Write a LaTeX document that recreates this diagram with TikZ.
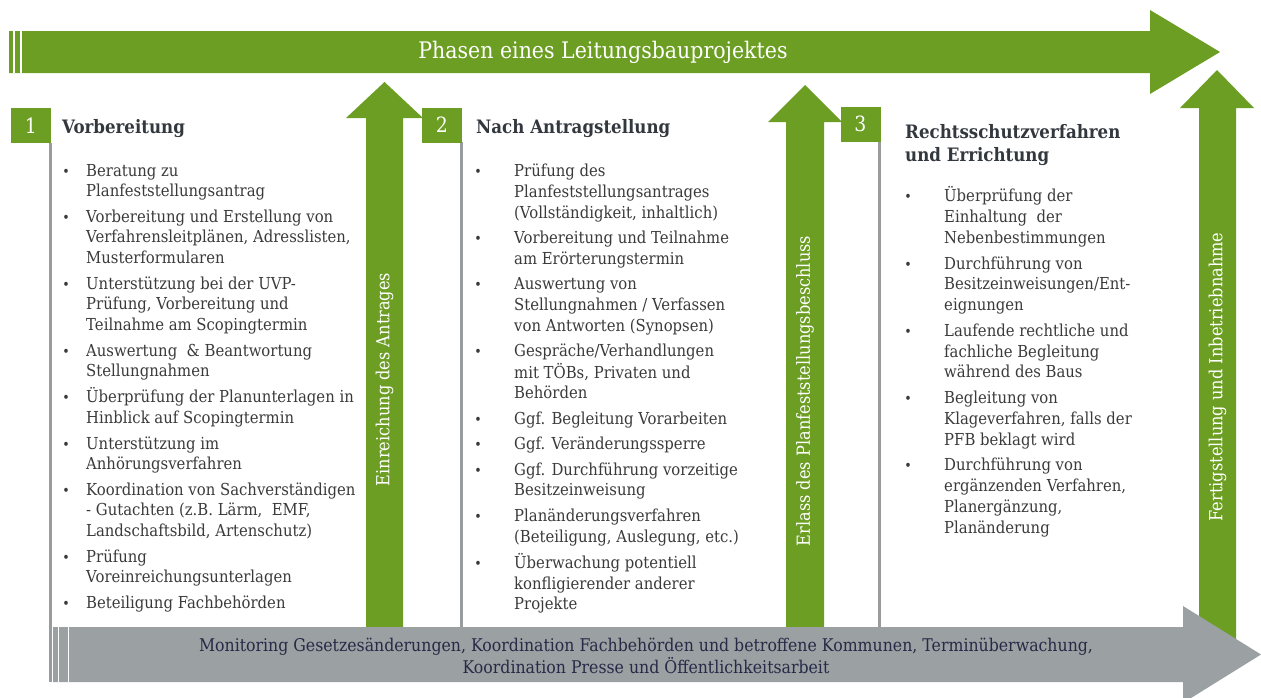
\documentclass[tikz,border=0pt]{standalone}
\usepackage{fontspec}
\setmainfont{DejaVu Serif}[FakeStretch=0.9]
\definecolor{grn}{RGB}{107,158,34}
\definecolor{gry}{RGB}{155,160,163}
\definecolor{lgry}{RGB}{152,156,159}
\definecolor{txtc}{RGB}{58,58,58}
\definecolor{ttlc}{RGB}{50,56,62}
\definecolor{navy}{RGB}{38,42,70}
\newcommand{\bulw}[1]{\makebox[#1]{\fontsize{14}{14}\selectfont\textbullet}}
\tikzset{
  numbox/.style={fill=grn, text=white, minimum width=40pt, minimum height=35pt, inner sep=0pt, font=\fontsize{21}{22}\selectfont},
  coltitle/.style={anchor=base west, inner sep=0pt, text=ttlc, font=\bfseries\fontsize{18.5}{23.4}\selectfont},
  coltext/.style={anchor=base west, inner sep=0pt, text=txtc, font=\fontsize{16.5}{20.7}\selectfont},
  vtext/.style={rotate=90, text=white, inner sep=0pt, font=\fontsize{18}{20}\selectfont},
  colline/.style={draw=lgry, line width=3pt},
}
\begin{document}
\begin{tikzpicture}[x=1pt,y=-1pt]
\useasboundingbox (0,0) rectangle (1261,697);
% top arrow
\fill[grn] (9,31) -- (1150,31) -- (1150,10) -- (1220,52) -- (1150,94) -- (1150,73) -- (9,73) -- cycle;
\fill[white] (13.3,31) rectangle (14.6,73);
\fill[white] (20.3,31) rectangle (21.6,73);
\node[text=white, inner sep=0pt, font=\fontsize{22.8}{26}\selectfont] (phasen) at (603,52) {Phasen eines Leitungsbauprojektes};
% column lines
\draw[colline] (50,143) -- (50,682);
\draw[colline] (461.5,142) -- (461.5,628);
\draw[colline] (879.5,141) -- (879.5,628);
% vertical arrows
\fill[grn] (366,628) -- (366,118) -- (346,118) -- (384.5,82) -- (423,118) -- (403,118) -- (403,628) -- cycle;
\fill[grn] (786,628) -- (786,122) -- (768,122) -- (805,85) -- (842,122) -- (824,122) -- (824,628) -- cycle;
\fill[grn] (1199,640) -- (1199,108) -- (1180,108) -- (1217,70) -- (1254,108) -- (1236,108) -- (1236,640) -- cycle;
\node[vtext] (einr) at (384.5,379.5) {Einreichung des Antrages};
\node[vtext] (erl) at (805,391) {Erlass des Planfeststellungsbeschluss};
\node[vtext] (fert) at (1217.5,377) {Fertigstellung und Inbetriebnahme};
% bottom arrow
\fill[gry] (53,627) -- (1183,627) -- (1183,606) -- (1261,654.5) -- (1183,703) -- (1183,682) -- (53,682) -- cycle;
\fill[white] (57.6,627) rectangle (58.9,682);
\fill[white] (67.6,627) rectangle (68.9,682);
\node[text=navy, inner sep=0pt, align=center, font=\fontsize{17.5}{22}\selectfont] (monitor) at (646,656)
  {Monitoring Gesetzesänderungen, Koordination Fachbehörden und betroffene Kommunen, Terminüberwachung,\\
   Koordination Presse und Öffentlichkeitsarbeit};
% number boxes
\node[numbox] (n1) at (31,125.5) {1};
\node[numbox] (n2) at (442,125) {2};
\node[numbox] (n3) at (860.5,124) {3};
% titles
\node[coltitle] (t1) at (62,133.3) {Vorbereitung};
\node[coltitle] (t2) at (476,133.3) {Nach Antragstellung};
\node[coltitle] (t3) at (905,138.3) {\begin{tabular}[t]{@{}l@{}}Rechtsschutzverfahren\\und Errichtung\end{tabular}};
% column 1
\node[coltext] (c1) at (46,176) {\begin{tabular}[t]{@{}l@{}l@{}}
\bulw{40pt} & Beratung zu\\
 & Planfeststellungsantrag\\[4.8pt]
\bulw{40pt} & Vorbereitung und Erstellung von\\
 & Verfahrensleitplänen, Adresslisten,\\
 & Musterformularen\\[4.8pt]
\bulw{40pt} & Unterstützung bei der UVP-\\
 & Prüfung, Vorbereitung und\\
 & Teilnahme am Scopingtermin\\[4.8pt]
\bulw{40pt} & Auswertung\ \ \& Beantwortung\\
 & Stellungnahmen\\[4.8pt]
\bulw{40pt} & Überprüfung der Planunterlagen in\\
 & Hinblick auf Scopingtermin\\[4.8pt]
\bulw{40pt} & Unterstützung im\\
 & Anhörungsverfahren\\[4.8pt]
\bulw{40pt} & Koordination von Sachverständigen\\
 & - Gutachten (z.B. Lärm,\ \ EMF,\\
 & Landschaftsbild, Artenschutz)\\[4.8pt]
\bulw{40pt} & Prüfung\\
 & Voreinreichungsunterlagen\\[4.8pt]
\bulw{40pt} & Beteiligung Fachbehörden
\end{tabular}};
% column 2
\node[coltext] (c2) at (442,176.7) {\begin{tabular}[t]{@{}l@{}l@{}}
\bulw{72pt} & Prüfung des\\
 & Planfeststellungsantrages\\
 & (Vollständigkeit, inhaltlich)\\[4.8pt]
\bulw{72pt} & Vorbereitung und Teilnahme\\
 & am Erörterungstermin\\[4.8pt]
\bulw{72pt} & Auswertung von\\
 & Stellungnahmen / Verfassen\\
 & von Antworten (Synopsen)\\[4.8pt]
\bulw{72pt} & Gespräche/Verhandlungen\\
 & mit TÖBs, Privaten und\\
 & Behörden\\[4.8pt]
\bulw{72pt} & Ggf. Begleitung Vorarbeiten\\[4.8pt]
\bulw{72pt} & Ggf. Veränderungssperre\\[4.8pt]
\bulw{72pt} & Ggf. Durchführung vorzeitige\\
 & Besitzeinweisung\\[4.8pt]
\bulw{72pt} & Planänderungsverfahren\\
 & (Beteiligung, Auslegung, etc.)\\[4.8pt]
\bulw{72pt} & Überwachung potentiell\\
 & konfligierender anderer\\
 & Projekte
\end{tabular}};
% column 3
\node[coltext] (c3) at (872,201.7) {\begin{tabular}[t]{@{}l@{}l@{}}
\bulw{72pt} & Überprüfung der\\
 & Einhaltung\ \ der\\
 & Nebenbestimmungen\\[5.2pt]
\bulw{72pt} & Durchführung von\\
 & Besitzeinweisungen/Ent-\\
 & eignungen\\[5.2pt]
\bulw{72pt} & Laufende rechtliche und\\
 & fachliche Begleitung\\
 & während des Baus\\[5.2pt]
\bulw{72pt} & Begleitung von\\
 & Klageverfahren, falls der\\
 & PFB beklagt wird\\[5.2pt]
\bulw{72pt} & Durchführung von\\
 & ergänzenden Verfahren,\\
 & Planergänzung,\\
 & Planänderung
\end{tabular}};
\end{tikzpicture}
\end{document}
